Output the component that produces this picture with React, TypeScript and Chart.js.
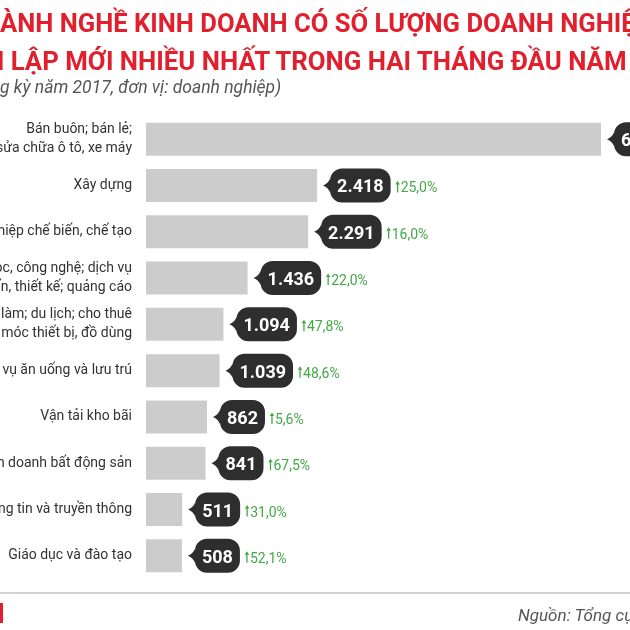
import React, { useEffect, useRef } from "react";
import { Chart, registerables } from "chart.js";

Chart.register(...registerables);

// ---- data ----
const categories: (string | string[])[] = [
  ["Bán buôn; bán lẻ;", "sửa chữa ô tô, xe máy"],
  "Xây dựng",
  "Công nghiệp chế biến, chế tạo",
  ["Khoa học, công nghệ; dịch vụ", "tư vấn, thiết kế; quảng cáo"],
  ["Dịch vụ việc làm; du lịch; cho thuê", "máy móc thiết bị, đồ dùng"],
  "Dịch vụ ăn uống và lưu trú",
  "Vận tải kho bãi",
  "Kinh doanh bất động sản",
  "Thông tin và truyền thông",
  "Giáo dục và đào tạo",
];
const newFirms = [6431, 2418, 2291, 1436, 1094, 1039, 862, 841, 511, 508];
const growthPct: (number | null)[] = [null, 25.0, 16.0, 22.0, 47.8, 48.6, 5.6, 67.5, 31.0, 52.1];

const title1Hidden = "10 NG";
const title1Shown = "ÀNH NGHỀ KINH DOANH CÓ SỐ LƯỢNG DOANH NGHIỆP";
const title2Hidden = "THÀN";
const title2Shown = "H LẬP MỚI NHIỀU NHẤT TRONG HAI THÁNG ĐẦU NĂM 2018";
const subHidden = "(Tăng so với cùn";
const subShown = "g kỳ năm 2017, đơn vị: doanh nghiệp)";
const sourceText = "Nguồn: Tổng cục Thống kê";

const RED = "#e2202d";
const GREEN = "#43a846";
const BUBBLE = "#2e2e2e";
const BAR = "#cccccc";

const fmtInt = (v: number) => v.toString().replace(/\B(?=(\d{3})+(?!\d))/g, ".");
const fmtPct = (v: number) => v.toFixed(1).replace(".", ",") + "%";

const bubblePlugin = {
  id: "valueBubbles",
  afterDatasetsDraw(chart: any) {
    const ctx = chart.ctx as CanvasRenderingContext2D;
    const meta = chart.getDatasetMeta(0);
    meta.data.forEach((bar: any, i: number) => {
      const x = bar.x;
      const y = bar.y;
      const label = fmtInt(newFirms[i]);
      ctx.save();
      ctx.font = "bold 18px Roboto";
      const tw = ctx.measureText(label).width;
      const tip = x + 6;
      const bx = x + 13;
      const bw = tw + 14;
      const h = 34;
      const top = y - h / 2;
      const bot = y + h / 2;
      const r = 12;
      ctx.beginPath();
      ctx.moveTo(bx + r, top);
      ctx.lineTo(bx + bw - r, top);
      ctx.arcTo(bx + bw, top, bx + bw, top + r, r);
      ctx.lineTo(bx + bw, bot - r);
      ctx.arcTo(bx + bw, bot, bx + bw - r, bot, r);
      ctx.lineTo(bx + r, bot);
      ctx.arcTo(bx, bot, bx, bot - r, r);
      ctx.lineTo(bx, y + 7);
      ctx.quadraticCurveTo(bx - 2, y + 2, tip, y);
      ctx.quadraticCurveTo(bx - 2, y - 2, bx, y - 7);
      ctx.lineTo(bx, top + r);
      ctx.arcTo(bx, top, bx + r, top, r);
      ctx.closePath();
      ctx.fillStyle = BUBBLE;
      ctx.fill();
      ctx.fillStyle = "#ffffff";
      ctx.textAlign = "center";
      ctx.textBaseline = "alphabetic";
      ctx.fillText(label, bx + bw / 2, y + 7);

      const g = growthPct[i];
      if (g !== null && g !== undefined) {
        const gx = bx + bw + 5;
        ctx.strokeStyle = GREEN;
        ctx.fillStyle = GREEN;
        ctx.lineWidth = 1.3;
        ctx.beginPath();
        ctx.moveTo(gx + 2, y + 7);
        ctx.lineTo(gx + 2, y - 2);
        ctx.stroke();
        ctx.beginPath();
        ctx.moveTo(gx - 0.3, y - 1);
        ctx.lineTo(gx + 4.3, y - 1);
        ctx.lineTo(gx + 2, y - 4.5);
        ctx.closePath();
        ctx.fill();
        ctx.font = "14px Roboto";
        ctx.textAlign = "left";
        ctx.fillText(fmtPct(g), gx + 5, y + 7);
      }
      ctx.restore();
    });
  },
};

export default function App() {
  const canvasRef = useRef<HTMLCanvasElement | null>(null);

  useEffect(() => {
    if (!canvasRef.current) return;
    const chart = new Chart(canvasRef.current, {
      type: "bar",
      data: {
        labels: categories,
        datasets: [
          {
            data: newFirms,
            backgroundColor: BAR,
            borderWidth: 0,
            barPercentage: 0.713,
            categoryPercentage: 1,
          },
        ],
      },
      options: {
        indexAxis: "y",
        responsive: false,
        animation: false,
        devicePixelRatio: 1,
        layout: { padding: { top: 116, bottom: 51, left: 0, right: 0 } },
        plugins: {
          legend: { display: false },
          tooltip: { enabled: false },
          title: { display: false },
        },
        scales: {
          x: { display: false, min: 0, max: 6840 },
          y: {
            grid: { display: false, drawTicks: false },
            border: { display: false },
            afterFit: (scale: any) => {
              scale.width = 146;
            },
            ticks: {
              autoSkip: false,
              padding: 14,
              color: "#333333",
              font: { family: "Roboto", size: 14, lineHeight: 1.35 },
            },
          },
        },
      },
      plugins: [bubblePlugin],
    } as any);
    return () => chart.destroy();
  }, []);

  const txt = (extra: React.CSSProperties): React.CSSProperties => ({
    position: "absolute",
    whiteSpace: "nowrap",
    lineHeight: 1,
    fontFamily: "Roboto, sans-serif",
    ...extra,
  });

  return (
    <div
      style={{
        position: "fixed",
        left: 0,
        top: 0,
        width: 630,
        height: 630,
        overflow: "hidden",
        background: "#ffffff",
      }}
    >
      <canvas ref={canvasRef} width={630} height={630} style={{ position: "absolute", left: 0, top: 0 }} />
      <div style={txt({ left: 0, top: 10.5, fontSize: 25.6, fontWeight: 700, color: RED })}>
        <span style={{ position: "absolute", right: "100%" }}>{title1Hidden}</span>
        {title1Shown}
      </div>
      <div style={txt({ left: -14, top: 48.5, fontSize: 25.8, fontWeight: 700, color: RED })}>
        <span style={{ position: "absolute", right: "100%" }}>{title2Hidden}</span>
        {title2Shown}
      </div>
      <div style={txt({ left: 0, top: 79, fontSize: 17.5, fontStyle: "italic", color: "#555555" })}>
        <span style={{ position: "absolute", right: "100%" }}>{subHidden}</span>
        {subShown}
      </div>
      <div style={{ position: "absolute", left: 0, top: 592, width: 630, height: 2, background: "#d2d2d2" }} />
      <div style={{ position: "absolute", left: 0, top: 603, width: 3, height: 20, background: RED }} />
      <div style={txt({ left: 518, top: 606.5, fontSize: 17, fontStyle: "italic", color: "#555555" })}>
        {sourceText}
      </div>
    </div>
  );
}
